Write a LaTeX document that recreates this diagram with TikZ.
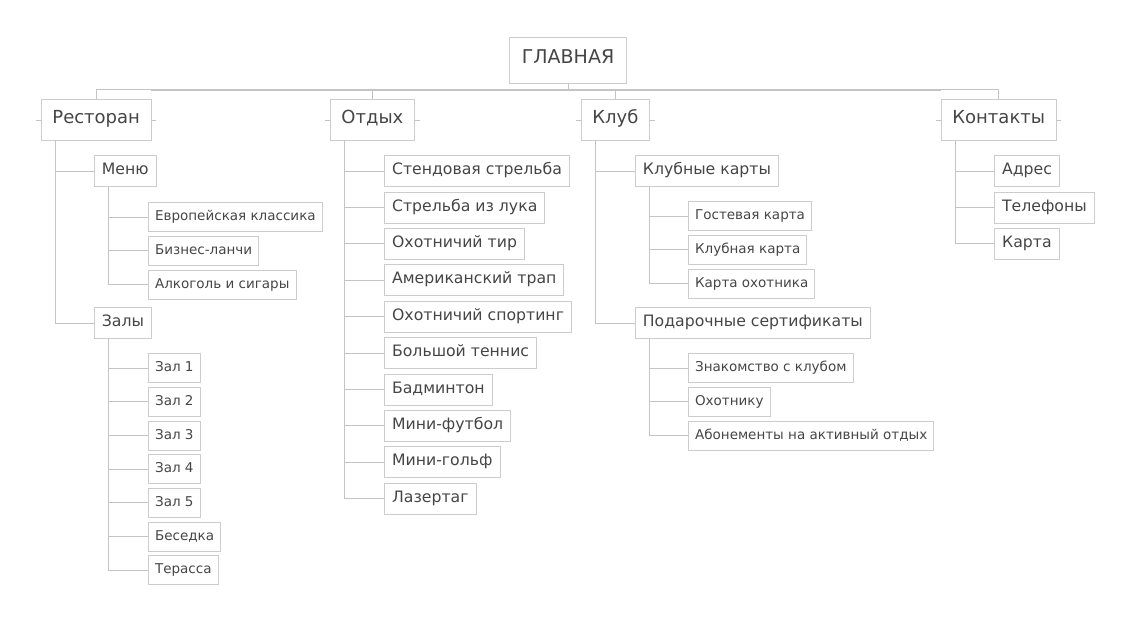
\documentclass[tikz,border=0pt]{standalone}
\usepackage{fontspec}
\setmainfont{DejaVu Sans}
\usepackage{tikz}
\usetikzlibrary{calc}
\usetikzlibrary{matrix,positioning}
\definecolor{boxgray}{rgb}{0.80,0.80,0.80}
\definecolor{linegray}{rgb}{0.77,0.77,0.77}
\definecolor{textgray}{rgb}{0.27,0.27,0.27}

\begin{document}
\begin{tikzpicture}[x=1pt,y=-1pt,
  box/.style={draw=boxgray,line width=0.8pt,text=textgray,anchor=west,text height=0.73em,text depth=0pt},
  rootbox/.style={box,anchor=center,font=\fontsize{19}{22}\selectfont,inner xsep=12pt,minimum height=46pt},
  lvlone/.style={box,font=\fontsize{18}{21}\selectfont,inner xsep=11pt,minimum height=41pt},
  lvltwo/.style={box,font=\fontsize{15.7}{18}\selectfont,inner xsep=7.5pt,minimum height=31pt},
  lvlthree/.style={box,font=\fontsize{13.5}{15}\selectfont,inner xsep=6.5pt,minimum height=29pt},
  link/.style={draw=linegray,line width=0.9pt},
  bar/.style={draw=linegray,line width=2.4pt},
  twolist/.style={matrix of nodes,anchor=north west,inner sep=0pt,row sep=4.6pt,nodes={lvltwo}},
  threelist/.style={matrix of nodes,anchor=north west,inner sep=0pt,row sep=3.9pt,nodes={lvlthree}}]

  \useasboundingbox (0,0) rectangle (1136,622);

  % root and first level
  \node[rootbox] (root) at (568,60) {ГЛАВНАЯ};
  \node[lvlone] (rest) at (41,120) {Ресторан};
  \node[lvlone] (otd) at (330,120) {Отдых};
  \node[lvlone] (klub) at (581,120) {Клуб};
  \node[lvlone] (cont) at (941,120) {Контакты};

  % second level
  \node[lvltwo] (menu) at (94,171) {Меню};
  \node[lvltwo] (zaly) at (94,323) {Залы};
  \node[lvltwo] (kart) at (635,171) {Клубные карты};
  \node[lvltwo] (podar) at (635,323) {Подарочные сертификаты};

  \matrix (O) [twolist] at (384,155) {
    Стендовая стрельба \\
    Стрельба из лука \\
    Охотничий тир \\
    Американский трап \\
    Охотничий спортинг \\
    Большой теннис \\
    Бадминтон \\
    Мини-футбол \\
    Мини-гольф \\
    Лазертаг \\
  };
  \matrix (C) [twolist] at (994,155) {
    Адрес \\
    Телефоны \\
    Карта \\
  };

  % third level
  \matrix (M) [threelist] at (148,202) {
    Европейская классика \\
    Бизнес-ланчи \\
    Алкоголь и сигары \\
  };
  \matrix (Z) [threelist] at (148,353) {
    Зал 1 \\
    Зал 2 \\
    Зал 3 \\
    Зал 4 \\
    Зал 5 \\
    Беседка \\
    Терасса \\
  };
  \matrix (K) [threelist] at (688,201) {
    Гостевая карта \\
    Клубная карта \\
    Карта охотника \\
  };
  \matrix (P) [threelist] at (688,353) {
    Знакомство с клубом \\
    Охотнику \\
    Абонементы на активный отдых \\
  };

  % top bar
  \coordinate (hub) at ([yshift=-6.5pt]root.south);
  \draw[bar] (rest.east |- hub) -- (cont.west |- hub);
  \draw[link] (root.south) -- (hub);
  \draw[link] (rest.north) |- (hub) -| (cont.north);
  \draw[link] (otd.north) -- (otd.north |- hub);
  \draw[link] (klub.north) -- (klub.north |- hub);
  \foreach \n in {rest,otd,klub,cont}
    \draw[link] (\n.west) -- ++(-5,0) (\n.east) -- ++(5,0);

  % branches
  \foreach \n in {menu,zaly}
    \draw[link] ([xshift=14pt]rest.south west) |- (\n.west);
  \foreach \n in {kart,podar}
    \draw[link] ([xshift=14pt]klub.south west) |- (\n.west);
  \foreach \i in {1,...,10}
    \draw[link] ([xshift=14pt]otd.south west) |- (O-\i-1.west);
  \foreach \i in {1,...,3}
    \draw[link] ([xshift=14pt]cont.south west) |- (C-\i-1.west);
  \foreach \i in {1,...,3}
    \draw[link] ([xshift=14pt]menu.south west) |- (M-\i-1.west);
  \foreach \i in {1,...,7}
    \draw[link] ([xshift=14pt]zaly.south west) |- (Z-\i-1.west);
  \foreach \i in {1,...,3}
    \draw[link] ([xshift=14pt]kart.south west) |- (K-\i-1.west);
  \foreach \i in {1,...,3}
    \draw[link] ([xshift=14pt]podar.south west) |- (P-\i-1.west);
\end{tikzpicture}
\end{document}
